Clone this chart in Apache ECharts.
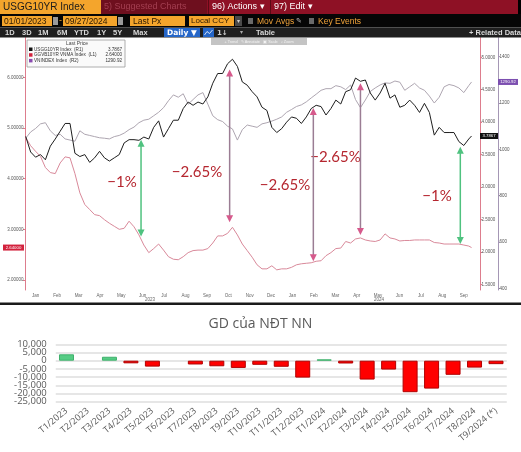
<!DOCTYPE html>
<html>
<head>
<meta charset="utf-8">
<script src="https://cdn.jsdelivr.net/npm/echarts@6/dist/echarts.min.js"></script>
<style>
  html, body { margin: 0; padding: 0; background: #fff; }
  #main { width: 521px; height: 452px; }
</style>
</head>
<body>
<div id="main"></div>
<script>
// weekly closes (01/01/2023 - 09/27/2024)
var dates = [
  '2023-01-02', '2023-01-09', '2023-01-16', '2023-01-23', '2023-01-30', '2023-02-06', '2023-02-13', '2023-02-20', '2023-02-27', '2023-03-06',
  '2023-03-13', '2023-03-20', '2023-03-27', '2023-04-03', '2023-04-10', '2023-04-17', '2023-04-24', '2023-05-01', '2023-05-08', '2023-05-15',
  '2023-05-22', '2023-05-29', '2023-06-05', '2023-06-12', '2023-06-19', '2023-06-26', '2023-07-03', '2023-07-10', '2023-07-17', '2023-07-24',
  '2023-07-31', '2023-08-07', '2023-08-14', '2023-08-21', '2023-08-28', '2023-09-04', '2023-09-11', '2023-09-18', '2023-09-25', '2023-10-02',
  '2023-10-09', '2023-10-16', '2023-10-23', '2023-10-30', '2023-11-06', '2023-11-13', '2023-11-20', '2023-11-27', '2023-12-04', '2023-12-11',
  '2023-12-18', '2023-12-25', '2024-01-01', '2024-01-08', '2024-01-15', '2024-01-22', '2024-01-29', '2024-02-05', '2024-02-12', '2024-02-19',
  '2024-02-26', '2024-03-04', '2024-03-11', '2024-03-18', '2024-03-25', '2024-04-01', '2024-04-08', '2024-04-15', '2024-04-22', '2024-04-29',
  '2024-05-06', '2024-05-13', '2024-05-20', '2024-05-27', '2024-06-03', '2024-06-10', '2024-06-17', '2024-06-24', '2024-07-01', '2024-07-08',
  '2024-07-15', '2024-07-22', '2024-07-29', '2024-08-05', '2024-08-12', '2024-08-19', '2024-08-26', '2024-09-02', '2024-09-09', '2024-09-16',
  '2024-09-23', '2024-09-27'
]
var usgg10yr = [
  3.78, 3.54, 3.46, 3.50, 3.42, 3.63, 3.74, 3.86, 3.98, 3.98,
  3.52, 3.47, 3.50, 3.38, 3.45, 3.55, 3.45, 3.40, 3.45, 3.50,
  3.68, 3.73, 3.73, 3.72, 3.77, 3.74, 3.92, 4.02, 3.77, 3.90,
  4.03, 4.03, 4.21, 4.31, 4.26, 4.31, 4.28, 4.39, 4.60, 4.75,
  4.75, 4.90, 4.97, 4.86, 4.62, 4.57, 4.47, 4.39, 4.23, 4.18,
  3.92, 3.84, 3.90, 4.00, 4.08, 4.06, 3.98, 4.08, 4.21, 4.26,
  4.24, 4.11, 4.21, 4.34, 4.28, 4.47, 4.50, 4.68, 4.63, 4.65,
  4.45, 4.34, 4.45, 4.60, 4.37, 4.42, 4.23, 4.26, 4.34, 4.26,
  4.15, 4.29, 4.15, 3.80, 3.92, 3.84, 3.84, 3.84, 3.70, 3.64,
  3.74, 3.7867
]
var ggvb10yr = [
  4.81, 4.65, 4.54, 4.44, 4.22, 4.12, 4.10, 4.31, 4.43, 4.41,
  4.10, 3.72, 3.49, 3.39, 3.29, 3.27, 3.19, 3.12, 3.06, 3.00,
  3.02, 3.16, 3.05, 2.89, 2.69, 2.54, 2.62, 2.71, 2.59, 2.46,
  2.41, 2.40, 2.46, 2.54, 2.58, 2.59, 2.59, 2.62, 2.73, 2.87,
  2.87, 2.92, 3.04, 2.89, 2.71, 2.58, 2.45, 2.30, 2.22, 2.22,
  2.28, 2.20, 2.22, 2.22, 2.25, 2.30, 2.32, 2.33, 2.34, 2.37,
  2.38, 2.48, 2.54, 2.62, 2.63, 2.76, 2.73, 2.81, 2.83, 2.79,
  2.77, 2.76, 2.79, 2.91, 2.83, 2.81, 2.77, 2.78, 2.78, 2.79,
  2.79, 2.79, 2.79, 2.74, 2.73, 2.71, 2.71, 2.71, 2.71, 2.69,
  2.67, 2.64
]
var vnindex = [
  1048, 1075, 1090, 1110, 1115, 1080, 1060, 1065, 1045, 1040,
  1035, 1080, 1065, 1060, 1055, 1050, 1048, 1045, 1055, 1060,
  1070, 1085, 1096, 1115, 1126, 1130, 1145, 1160, 1180, 1210,
  1235, 1225, 1240, 1195, 1215, 1235, 1245, 1195, 1145, 1128,
  1120, 1100, 1088, 1040, 1085, 1105, 1100, 1095, 1110, 1115,
  1122, 1130, 1140, 1160, 1172, 1185, 1192, 1205, 1222, 1238,
  1255, 1262, 1262, 1275, 1270, 1258, 1278, 1215, 1180, 1213,
  1250, 1265, 1278, 1287, 1285, 1295, 1290, 1255, 1270, 1285,
  1265, 1255, 1230, 1200, 1225, 1270, 1280, 1275, 1265, 1245,
  1275, 1290.92
]
var monthLabels = ['Jan', 'Feb', 'Mar', 'Apr', 'May', 'Jun', 'Jul', 'Aug', 'Sep', 'Oct', 'Nov', 'Dec',
  'Jan', 'Feb', 'Mar', 'Apr', 'May', 'Jun', 'Jul', 'Aug', 'Sep', '']

// arrows: date, US 10y value at the top tip, VN 10y value at the bottom tip
var arrows = [
  { date: '2023-06-15', top: 3.73, bottom: 2.86, kind: 'green' },
  { date: '2023-10-19', top: 4.81, bottom: 3.14, kind: 'purple' },
  { date: '2024-02-15', top: 4.22, bottom: 2.37, kind: 'purple' },
  { date: '2024-04-22', top: 4.60, bottom: 2.89, kind: 'purple' },
  { date: '2024-09-11', top: 3.62, bottom: 2.71, kind: 'green' }
]
var notes = [
  { text: '−1%', x: 122, y: 182.5 },
  { text: '−2.65%', x: 197, y: 172 },
  { text: '−2.65%', x: 285, y: 185 },
  { text: '−2.65%', x: 335.5, y: 157.5 },
  { text: '−1%', x: 437, y: 196.5 }
]

// GD của NĐT NN (tỷ đồng)
var barMonths = ['T1/2023', 'T2/2023', 'T3/2023', 'T4/2023', 'T5/2023', 'T6/2023', 'T7/2023', 'T8/2023', 'T9/2023',
  'T10/2023', 'T11/2023', 'T12/2023', 'T1/2024', 'T2/2024', 'T3/2024', 'T4/2024', 'T5/2024', 'T6/2024', 'T7/2024',
  'T8/2024', 'T9/2024 (*)']
var barValues = [3900, 0, 2400, -1600, -3600, 0, -2300, -3400, -4400, -2500, -3700, -10300, 800, -1700, -11500,
  -5400, -19200, -17000, -8600, -4200, -2100]

var FONT_BB = 'Liberation Sans'
var FONT_XL = 'Open Sans'

function pair (vals) {
  return dates.map(function (d, i) { return [d, vals[i]] })
}
function rect (x, y, w, h, fill) {
  return { type: 'rect', silent: true, z: 100, shape: { x: x, y: y, width: w, height: h }, style: { fill: fill } }
}
function txt (x, y, s, size, fill, align, weight, family) {
  return {
    type: 'text', silent: true, z: 102, x: x, y: y,
    style: { text: s, fontSize: size, fill: fill, align: align || 'left', verticalAlign: 'middle',
      fontWeight: weight || 'normal', fontFamily: family || FONT_BB }
  }
}
function grid (left, right, top, height) {
  return { left: left, right: right, top: top, height: height, outerBoundsMode: 'none' }
}

var chart = echarts.init(document.getElementById('main'))

var timeAxis = function (idx) {
  return { type: 'time', gridIndex: idx, min: '2023-01-01', max: '2024-10-09', show: false }
}
var tinyLabel = { fontSize: 4.5, lineHeight: 5, color: '#555', margin: 1.5, fontFamily: FONT_BB, hideOverlap: false, showMinLabel: true, showMaxLabel: true }

// the bar axis labels sit closer than their height, so they are split over two
// identical left axes: one writes the even steps, the other the odd ones
function barAxis (even, withGrid) {
  return {
    type: 'value', gridIndex: 5, position: 'left', min: -25000, max: 10000, interval: 5000,
    axisLine: { show: false }, axisTick: { show: false },
    splitLine: { show: withGrid, lineStyle: { color: '#dedede', width: 1.5 } },
    axisLabel: {
      fontSize: 9.5, color: '#595959', margin: 9, fontFamily: FONT_XL,
      hideOverlap: false, showMinLabel: true, showMaxLabel: true,
      formatter: function (v) {
        var step = Math.round(Math.abs(v) / 5000)
        return (step % 2 === 0) === even ? v.toLocaleString('en-US') : ''
      }
    }
  }
}

chart.setOption({
  animation: false,
  backgroundColor: '#fff',
  grid: [
    grid(25, 41, 37.5, 252.5),      // frame for the axis lines
    grid(25, 25.2, 37.5, 252.5),    // month labels, one slot per month
    grid(25, 41, 77.3, 202.7),      // L1 GGVB10YR
    grid(25, 41, 57.3, 227),        // R1 USGG10YR
    grid(25, 41, 56.7, 231.6),      // R2 VNINDEX
    grid(55.75, 14.25, 344.3, 57.4) // bars
  ],
  xAxis: [
    { type: 'value', gridIndex: 0, min: 0, max: 1, show: false },
    {
      type: 'category', gridIndex: 1, data: monthLabels,
      axisLine: { show: false }, axisTick: { show: false },
      axisLabel: { fontSize: 4.5, color: '#666', margin: 3, interval: 0, fontFamily: FONT_BB }
    },
    timeAxis(2), timeAxis(3), timeAxis(4),
    {
      type: 'category', gridIndex: 5, data: barMonths,
      axisLine: { show: false }, axisTick: { show: false },
      axisLabel: { rotate: 40, fontSize: 9, color: '#595959', margin: 8, interval: 0, fontFamily: FONT_XL }
    }
  ],
  yAxis: [
    { type: 'value', gridIndex: 0, min: 0, max: 1, position: 'left', axisLabel: { show: false }, axisTick: { show: false }, splitLine: { show: false },
      axisLine: { show: true, lineStyle: { color: '#dd7d8d', width: 1 } } },
    { type: 'value', gridIndex: 0, min: 0, max: 1, position: 'right', axisLabel: { show: false }, axisTick: { show: false }, splitLine: { show: false },
      axisLine: { show: true, lineStyle: { color: '#dd7d8d', width: 1 } } },
    { type: 'value', gridIndex: 0, min: 0, max: 1, position: 'right', offset: 18, axisLabel: { show: false }, axisTick: { show: false }, splitLine: { show: false },
      axisLine: { show: true, lineStyle: { color: '#a597b5', width: 1 } } },
    { type: 'value', gridIndex: 1, show: false },
    {
      type: 'value', gridIndex: 2, position: 'left', min: 2, max: 6, interval: 1,
      axisLine: { show: false }, splitLine: { show: false },
      axisTick: { show: true, length: 2, lineStyle: { color: '#dd7d8d' } },
      axisLabel: Object.assign({ formatter: function (v) { return v.toFixed(5) } }, tinyLabel)
    },
    {
      type: 'value', gridIndex: 3, position: 'right', min: 1.5, max: 5, interval: 0.5,
      axisLine: { show: false }, splitLine: { show: false },
      axisTick: { show: true, length: 2, lineStyle: { color: '#dd7d8d' } },
      axisLabel: Object.assign({ formatter: function (v) { return v.toFixed(4) } }, tinyLabel)
    },
    {
      type: 'value', gridIndex: 4, position: 'right', offset: 18, min: 400, max: 1400, interval: 200,
      axisLine: { show: false }, splitLine: { show: false },
      axisTick: { show: true, length: 2, lineStyle: { color: '#a597b5' } },
      axisLabel: Object.assign({ formatter: function (v) { return String(v) } }, tinyLabel)
    },
    barAxis(true, true),
    barAxis(false, false)
  ],
  series: [
    { name: 'GGVB10YR VNMA Index', type: 'line', xAxisIndex: 2, yAxisIndex: 4, data: pair(ggvb10yr),
      showSymbol: false, lineStyle: { color: '#d9899a', width: 1 } },
    { name: 'VNINDEX Index', type: 'line', xAxisIndex: 4, yAxisIndex: 6, data: pair(vnindex),
      showSymbol: false, lineStyle: { color: '#aea6b1', width: 1 } },
    { name: 'USGG10YR Index', type: 'line', xAxisIndex: 3, yAxisIndex: 5, data: pair(usgg10yr),
      showSymbol: false, lineStyle: { color: '#1e1e1e', width: 1 } },
    {
      name: 'GD của NĐT NN', type: 'bar', xAxisIndex: 5, yAxisIndex: 7, barWidth: 15,
      data: barValues.map(function (v) {
        return {
          value: v,
          itemStyle: {
            color: v >= 0 ? '#55cc84' : '#ff0000',
            borderColor: v >= 0 ? '#3fb06c' : '#b00000',
            borderWidth: v === 0 ? 0 : 1
          }
        }
      })
    }
  ]
})

// ---- Bloomberg toolbar, legend, tags and the hand-drawn notes ----
var els = []
// row 1
els.push(rect(0, 0, 521, 14, '#000'))
els.push(rect(0, 0, 518, 14, '#8e1125'))
els.push(rect(0, 0, 101, 14, '#f4a52c'))
els.push(txt(3, 7, 'USGG10YR Index', 10, '#1b1b1b'))
els.push(rect(101, 0, 106, 14, '#6e0f1e'))
els.push(txt(104, 7, '5) Suggested Charts', 9, '#a33f51'))
els.push(rect(208, 0, 1, 14, '#5a0a15'))
els.push(rect(270, 0, 1, 14, '#5a0a15'))
els.push(txt(212, 7, '96) Actions ▾', 9, '#fff'))
els.push(txt(274, 7, '97) Edit ▾', 9, '#fff'))
// row 2
els.push(rect(0, 14, 521, 13.5, '#060606'))
els.push(rect(2, 16, 50, 10, '#f4a52c'))
els.push(txt(4, 21.2, '01/01/2023', 8.5, '#2a1800'))
els.push(rect(53, 17, 5, 8, '#9a9a9a'))
els.push(txt(59, 21, '-', 9, '#f4a52c'))
els.push(rect(63, 16, 54, 10, '#f4a52c'))
els.push(txt(65, 21.2, '09/27/2024', 8.5, '#2a1800'))
els.push(rect(118, 17, 5, 8, '#9a9a9a'))
els.push(rect(130, 16, 55, 10, '#f4a52c'))
els.push(txt(133, 21.2, 'Last Px', 8.5, '#2a1800'))
els.push(rect(189, 16, 45, 10, '#f4a52c'))
els.push(txt(191, 21.2, 'Local CCY', 8, '#2a1800'))
els.push(rect(235, 16, 7, 10, '#4a4a4a'))
els.push(txt(238.5, 21, '▾', 6, '#ccc', 'center'))
els.push(rect(248, 18, 5, 6, '#6a6a6a'))
els.push(txt(257, 21.2, 'Mov Avgs', 8.5, '#f0a33a'))
els.push(txt(296, 21, '✎', 7, '#bbb', 'left', 'normal', 'DejaVu Sans'))
els.push(rect(309, 18, 5, 6, '#6a6a6a'))
els.push(txt(318, 21.2, 'Key Events', 8.5, '#f0a33a'))
// row 3
els.push(rect(0, 27.5, 521, 10, '#1f1f1f'))
;[['1D', 5], ['3D', 22], ['1M', 38], ['6M', 57], ['YTD', 74], ['1Y', 97], ['5Y', 113], ['Max', 133]].forEach(function (b) {
  els.push(txt(b[1], 32.7, b[0], 7.5, '#d8d8d8', 'left', 'bold'))
})
els.push(rect(164, 28, 36, 9, '#2566c8'))
els.push(txt(167, 32.7, 'Daily ▼', 7.5, '#fff', 'left', 'bold', 'DejaVu Sans'))
els.push(rect(203, 28, 11, 9, '#2566c8'))
els.push({ type: 'polyline', silent: true, z: 102, shape: { points: [[204.5, 35], [207, 31.5], [209.5, 33.5], [212.5, 30]] }, style: { stroke: '#fff', lineWidth: 0.8, fill: null } })
els.push(txt(217, 32.7, '1↓', 7, '#ccc', 'left', 'bold', 'DejaVu Sans'))
els.push(txt(240, 32.5, '▾', 6, '#aaa'))
els.push(txt(256, 32.7, 'Table', 7.5, '#d8d8d8', 'left', 'bold'))
els.push(txt(469, 32.7, '+ Related Data', 7.5, '#d8d8d8', 'left', 'bold'))
// annotate strip under the toolbar
els.push(rect(211, 38, 96, 7, '#c4c4c4'))
els.push(txt(259, 41.5, '+ Trend   ✎ Annotate   ▣ Scale   ⌕ Zoom', 3.8, '#f4f4f4', 'center'))
// legend box
els.push({ type: 'rect', silent: true, z: 100, shape: { x: 27, y: 40, width: 98, height: 27 }, style: { fill: '#fafafa', stroke: '#9a9a9a', lineWidth: 0.8 } })
els.push(txt(77, 44, 'Last Price', 5, '#444', 'center'))
;[['USGG10YR Index  (R1)', '3.7867', '#111', 49.3],
  ['GGVB10YR VNMA Index  (L1)', '2.64000', '#d3223d', 55],
  ['VNINDEX Index  (R2)', '1290.92', '#8a4ab0', 60.7]].forEach(function (r) {
  els.push(rect(29, r[3] - 1.8, 3.5, 3.5, r[2]))
  els.push(txt(34, r[3], r[0], 4.6, '#333'))
  els.push(txt(122, r[3], r[1], 4.6, '#333', 'right'))
})
// bottom border of the Bloomberg screen and year labels
els.push(txt(150, 299.5, '2023', 4.5, '#666', 'center'))
els.push(txt(379, 299.5, '2024', 4.5, '#666', 'center'))
els.push(rect(0, 302.5, 521, 2.5, '#1a1a1a'))

// last-price tags on the three axes
var last = dates.length - 1
var yL = chart.convertToPixel({ seriesIndex: 0 }, [dates[last], ggvb10yr[last]])[1]
var yV = chart.convertToPixel({ seriesIndex: 1 }, [dates[last], vnindex[last]])[1]
var yU = chart.convertToPixel({ seriesIndex: 2 }, [dates[last], usgg10yr[last]])[1]
els.push(rect(3, yL - 3, 21, 6, '#d3223d'))
els.push(txt(13.5, yL, ggvb10yr[last].toFixed(5), 4.3, '#fff', 'center'))
els.push(rect(480, yU - 3, 18, 6, '#111'))
els.push(txt(489, yU, usgg10yr[last].toFixed(4), 4.3, '#fff', 'center'))
els.push(rect(498, yV - 3, 20, 6, '#7c4fb0'))
els.push(txt(508, yV, vnindex[last].toFixed(2), 4.3, '#fff', 'center'))

// double-headed arrows between the US and VN 10y lines
arrows.forEach(function (a) {
  var p1 = chart.convertToPixel({ seriesIndex: 2 }, [a.date, a.top])
  var p2 = chart.convertToPixel({ seriesIndex: 0 }, [a.date, a.bottom])
  var shaft = a.kind === 'green' ? '#4fc27f' : '#9b7d94'
  var head = a.kind === 'green' ? '#4fc27f' : '#d65a8c'
  var x = p1[0]
  els.push({ type: 'line', silent: true, z: 110, shape: { x1: x, y1: p1[1] + 5, x2: x, y2: p2[1] - 5 }, style: { stroke: shaft, lineWidth: 1.5 } })
  els.push({ type: 'polygon', silent: true, z: 111, shape: { points: [[x, p1[1]], [x - 3.5, p1[1] + 7], [x + 3.5, p1[1] + 7]] }, style: { fill: head } })
  els.push({ type: 'polygon', silent: true, z: 111, shape: { points: [[x, p2[1]], [x - 3.5, p2[1] - 7], [x + 3.5, p2[1] - 7]] }, style: { fill: head } })
})
notes.forEach(function (n) {
  els.push(txt(n.x, n.y, n.text, 15, '#b5262f', 'center', 'normal', 'Lato'))
})

// bar chart title
els.push(txt(260.5, 324, 'GD của NĐT NN', 14, '#595959', 'center', 'normal', FONT_XL))

chart.setOption({ graphic: els })
</script>
</body>
</html>
